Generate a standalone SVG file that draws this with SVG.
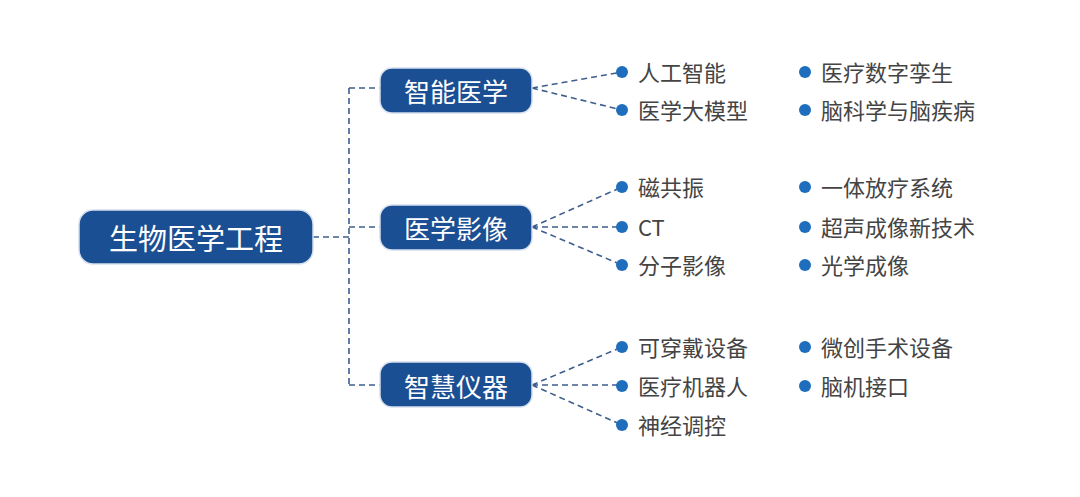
<svg xmlns="http://www.w3.org/2000/svg" width="1080" height="497" viewBox="0 0 1080 497">
<style>
.box{fill:#1b4f93;stroke:#d6e0ee;stroke-width:1.5}
.bt{fill:#fff;font-family:"Noto Sans CJK SC",sans-serif;text-anchor:middle;dominant-baseline:central}
.lt{fill:#444;font-family:"Noto Sans CJK SC",sans-serif;font-size:22px;dominant-baseline:central}
.dot{fill:#1f6dbd}
.c{fill:none;stroke:#3d5e8c;stroke-width:1.6;stroke-dasharray:6,4}
</style>
<rect width="1080" height="497" fill="#fff"/>
<g id="connectors">
<path class="c" d="M313 237H349M349 88V385M349 88H380M349 227H380M349 385H380"/>
<path class="c" d="M532 88L622 72M532 88L622 110M532 227L622 187M532 227H622M532 227L622 265M532 385L622 347M532 385H622M532 385L622 425"/>
</g>
<g id="root"><rect class="box" x="79" y="210" width="234" height="54" rx="14"/><text class="bt" x="196" y="237" font-size="29">生物医学工程</text></g>
<g id="b1"><rect class="box" x="380" y="68" width="152" height="45" rx="12"/><text class="bt" x="456" y="90" font-size="26">智能医学</text></g>
<g id="b2"><rect class="box" x="380" y="205" width="152" height="45" rx="12"/><text class="bt" x="456" y="227" font-size="26">医学影像</text></g>
<g id="b3"><rect class="box" x="380" y="362" width="152" height="45" rx="12"/><text class="bt" x="456" y="385" font-size="26">智慧仪器</text></g>
<g id="leaves">
<circle class="dot" cx="622" cy="72" r="6"/><text class="lt" x="638" y="71">人工智能</text>
<circle class="dot" cx="622" cy="110" r="6"/><text class="lt" x="638" y="109">医学大模型</text>
<circle class="dot" cx="622" cy="187" r="6"/><text class="lt" x="638" y="186">磁共振</text>
<circle class="dot" cx="622" cy="227" r="6"/><text class="lt" x="638" y="226">CT</text>
<circle class="dot" cx="622" cy="265" r="6"/><text class="lt" x="638" y="264">分子影像</text>
<circle class="dot" cx="622" cy="347" r="6"/><text class="lt" x="638" y="346">可穿戴设备</text>
<circle class="dot" cx="622" cy="386" r="6"/><text class="lt" x="638" y="385">医疗机器人</text>
<circle class="dot" cx="622" cy="425" r="6"/><text class="lt" x="638" y="424">神经调控</text>
<circle class="dot" cx="805" cy="72" r="6"/><text class="lt" x="821" y="71">医疗数字孪生</text>
<circle class="dot" cx="805" cy="110" r="6"/><text class="lt" x="821" y="109">脑科学与脑疾病</text>
<circle class="dot" cx="805" cy="187" r="6"/><text class="lt" x="821" y="186">一体放疗系统</text>
<circle class="dot" cx="805" cy="227" r="6"/><text class="lt" x="821" y="226">超声成像新技术</text>
<circle class="dot" cx="805" cy="265" r="6"/><text class="lt" x="821" y="264">光学成像</text>
<circle class="dot" cx="805" cy="347" r="6"/><text class="lt" x="821" y="346">微创手术设备</text>
<circle class="dot" cx="805" cy="386" r="6"/><text class="lt" x="821" y="385">脑机接口</text>
</g>
</svg>
